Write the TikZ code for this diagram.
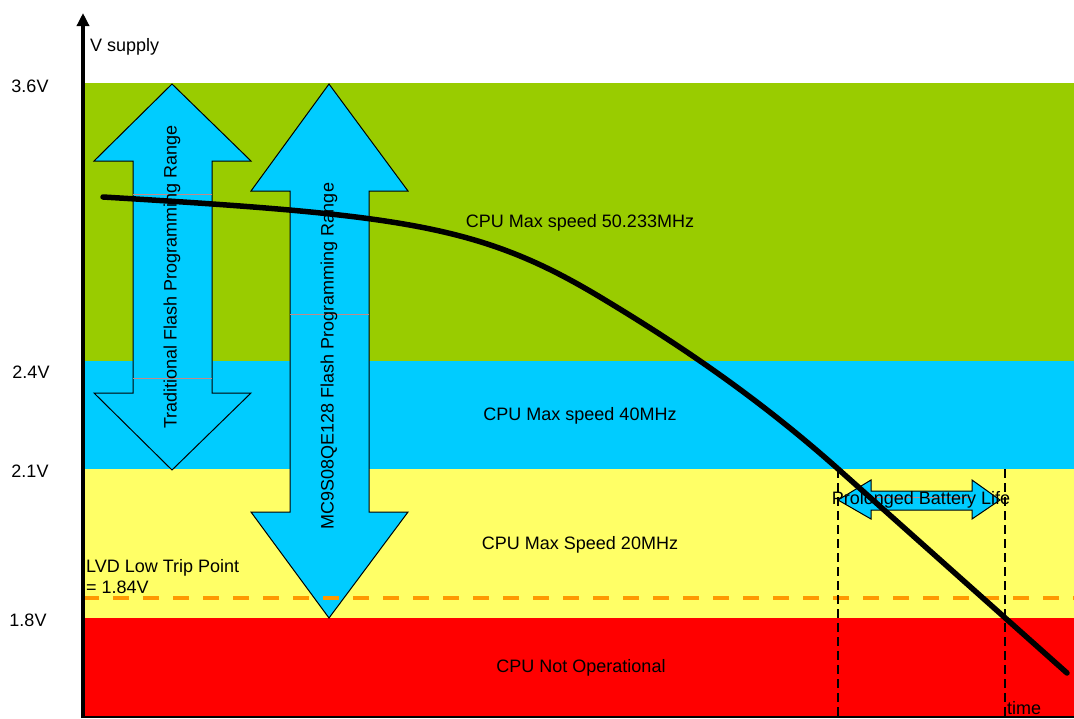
\documentclass[tikz,border=0pt]{standalone}
\usepackage{fontspec}
\setmainfont{Liberation Sans}
\usetikzlibrary{arrows.meta}
\definecolor{speedgreen}{HTML}{99CC00}
\definecolor{speedblue}{HTML}{00CCFF}
\definecolor{speedyellow}{HTML}{FFFF66}
\definecolor{speedred}{HTML}{FF0000}
\definecolor{lvdorange}{HTML}{FF9900}
\definecolor{boxline}{HTML}{C08A8A}
\tikzset{
  blockarrow/.style={fill=speedblue, draw=black, line width=1pt, line join=miter},
  boxedge/.style={draw=boxline, line width=0.6pt},
  limitline/.style={draw=black, dash pattern=on 9pt off 5pt, line width=2.5pt},
  label/.style={inner sep=0pt},
}
\begin{document}
\begin{tikzpicture}[x=1pt,y=-1pt,font=\fontsize{18}{21}\selectfont]
\useasboundingbox (0,0) rectangle (1074,718);
\fill[speedgreen]  (85,83) rectangle (1074,361);
\fill[speedblue]   (85,361) rectangle (1074,469);
\fill[speedyellow] (85,469) rectangle (1074,618);
\fill[speedred]    (85,618) rectangle (1074,718);

\draw[blockarrow] (172,84) -- (251,161) -- (212,161) -- (212,393) -- (251,393) -- (172,470)
  -- (94,393) -- (133,393) -- (133,161) -- (94,161) -- cycle;
\draw[boxedge] (133,194) -- (212,194) (133,378) -- (212,378);
\node[label,rotate=90] (tradtext) at (172,277) {Traditional Flash Programming Range};

\draw[blockarrow] (329,84) -- (408,191) -- (369,191) -- (369,512) -- (408,512) -- (329,618)
  -- (251,512) -- (290,512) -- (290,191) -- (251,191) -- cycle;
\draw[boxedge] (290,314) -- (369,314);
\node[label,rotate=90] (mctext) at (329,356) {MC9S08QE128 Flash Programming Range};

\draw[blockarrow] (838,500) -- (871,480) -- (871,491) -- (972,491) -- (972,480) -- (1000,500)
  -- (972,519) -- (972,510) -- (871,510) -- (871,519) -- cycle;
\draw[boxedge] (871,497) -- (972,497);
\node[label] (battery) at (921,500) {Prolonged Battery Life};

\node[label] (green) at (580,223) {CPU Max speed 50.233MHz};
\node[label] (blue) at (580,416) {CPU Max speed 40MHz};
\node[label] (yellow) at (580,545) {CPU Max Speed 20MHz};
\node[label] (red) at (581,668) {CPU Not Operational};

\node[label] (v36) at (30,86) {3.6V};
\node[label] (v24) at (31,372) {2.4V};
\node[label] (v21) at (30,471) {2.1V};
\node[label] (v18) at (28,620) {1.8V};
\node[label,anchor=west] (vsupply) at (90,47) {V supply};
\node[label,anchor=west,align=left] (lvd) at (86,577) {LVD Low Trip Point\\= 1.84V};
\node[label,anchor=west] (time) at (1007,708) {time};

\coordinate (lvdL) at (83,598);
\coordinate (lvdR) at (1074,598);
\draw[lvdorange, line width=4pt, dash pattern=on 16pt off 14pt] (lvdL) -- (lvdR);

\coordinate (startT1) at (838,469);
\coordinate (endT1) at (838,718);
\coordinate (startT2) at (1005,469);
\coordinate (endT2) at (1005,718);
\draw[limitline] (startT1) -- (endT1);
\draw[limitline] (startT2) -- (endT2);

\coordinate (startY) at (83,718);
\coordinate (endY) at (83,13);
\coordinate (startX) at (83,717);
\coordinate (endX) at (1074,717);
\draw[-{Triangle[length=13pt,width=12pt]}, line width=3.5pt] (startY) -- (endY);
\draw[line width=2pt] (startX) -- (endX);

\draw[line width=5.5pt, line cap=round] (103,197) .. controls (403,215) and (480,225) .. (600,297)
  .. controls (680,345) and (757,397) .. (837,468) -- (1067,673);
\end{tikzpicture}
\end{document}
